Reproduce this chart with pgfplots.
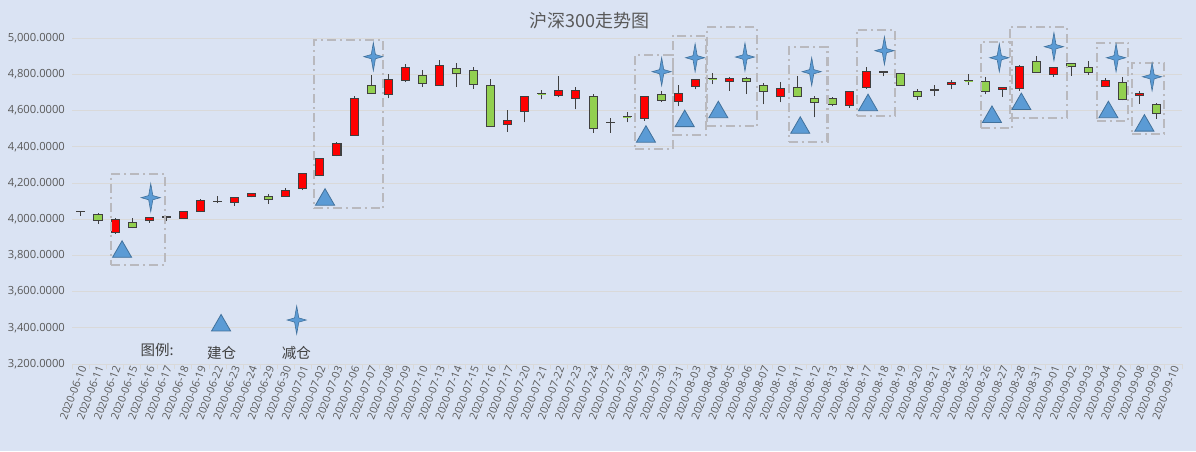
\documentclass[border=0pt]{standalone}
\usepackage{pgfplots}
\pgfplotsset{compat=1.18}
\usepackage{fontspec}
\setmainfont{Open Sans}
\newfontfamily\cjk{Noto Sans CJK SC}
\definecolor{bgc}{RGB}{218,227,243}
\definecolor{gridc}{RGB}{217,217,217}
\definecolor{tickc}{RGB}{89,89,89}
\definecolor{upred}{RGB}{255,0,0}
\definecolor{dngreen}{RGB}{146,208,80}
\definecolor{cdark}{RGB}{64,64,64}
\definecolor{mblue}{RGB}{91,155,213}
\definecolor{mdark}{RGB}{65,113,156}
\definecolor{rectc}{RGB}{185,185,190}
\pgfdeclareplotmark{star4}{%
 \pgfpathmoveto{\pgfqpoint{0pt}{14pt}}%
 \pgfpathlineto{\pgfqpoint{2.1pt}{2.1pt}}%
 \pgfpathlineto{\pgfqpoint{9.5pt}{0pt}}%
 \pgfpathlineto{\pgfqpoint{2.1pt}{-2.1pt}}%
 \pgfpathlineto{\pgfqpoint{0pt}{-14pt}}%
 \pgfpathlineto{\pgfqpoint{-2.1pt}{-2.1pt}}%
 \pgfpathlineto{\pgfqpoint{-9.5pt}{0pt}}%
 \pgfpathlineto{\pgfqpoint{-2.1pt}{2.1pt}}%
 \pgfpathclose
 \pgfusepathqfillstroke}
\newcommand\candle[5]{% index, open, high, low, close
  \pgfmathsetmacro\cdl{#1-0.235}%
  \pgfmathsetmacro\cdr{#1+0.235}%
  \pgfmathparse{(#5>=#2)?1:0}%
  \ifdim\pgfmathresult pt>0.5pt \def\cdfill{upred}\else\def\cdfill{dngreen}\fi
  \edef\cdcmd{%
    \noexpand\addplot[draw=cdark, line width=1pt, mark=none] coordinates {(#1,#4) (#1,#3)};%
    \noexpand\addplot[draw=cdark, line width=1pt, fill=\cdfill, mark=none] coordinates {(\cdl,#2) (\cdr,#2) (\cdr,#5) (\cdl,#5)} --cycle;}%
  \cdcmd
}
\begin{document}
\begin{tikzpicture}
\path[fill=bgc, use as bounding box] (-72.4pt,-87pt) rectangle (1123.6pt,364pt);
\begin{axis}[
  at={(0pt,0pt)}, anchor=south west, scale only axis,
  width=1109.6pt, height=325.8pt,
  xmin=-0.5, xmax=64.5, ymin=3200, ymax=5000,
  clip=false,
  axis lines*=left,
  y axis line style={draw=none},
  x axis line style={draw=gridc, line width=0.8pt},
  ytick={3200,3400,...,5000},
  ymajorgrids, grid style={gridc, line width=0.8pt},
  scaled y ticks=false,
  /pgf/number format/assume math mode=true,
  yticklabel style={/pgf/number format/fixed, /pgf/number format/fixed zerofill,
    /pgf/number format/precision=4, /pgf/number format/1000 sep={,},
    font=\fontsize{11.2}{12}\selectfont, xshift=-4pt},
  ticklabel style={text=tickc},
  xtick={0,...,64},
  xticklabels={2020-06-10,2020-06-11,2020-06-12,2020-06-15,2020-06-16,2020-06-17,2020-06-18,2020-06-19,2020-06-22,2020-06-23,2020-06-24,2020-06-29,2020-06-30,2020-07-01,2020-07-02,2020-07-03,2020-07-06,2020-07-07,2020-07-08,2020-07-09,2020-07-10,2020-07-13,2020-07-14,2020-07-15,2020-07-16,2020-07-17,2020-07-20,2020-07-21,2020-07-22,2020-07-23,2020-07-24,2020-07-27,2020-07-28,2020-07-29,2020-07-30,2020-07-31,2020-08-03,2020-08-04,2020-08-05,2020-08-06,2020-08-07,2020-08-10,2020-08-11,2020-08-12,2020-08-13,2020-08-14,2020-08-17,2020-08-18,2020-08-19,2020-08-20,2020-08-21,2020-08-24,2020-08-25,2020-08-26,2020-08-27,2020-08-28,2020-08-31,2020-09-01,2020-09-02,2020-09-03,2020-09-04,2020-09-07,2020-09-08,2020-09-09,2020-09-10},
  xticklabel style={rotate=69, anchor=east, font=\fontsize{10.8}{11}\selectfont, inner sep=1.5pt, yshift=-3pt},
  minor xtick={-0.5,0.5,...,64.5},
  major tick length=0pt, minor tick length=5pt, tick align=outside,
  minor tick style={draw=gridc, line width=0.8pt},
]
% candles: index, open, high, low, close
\candle{0}{4043}{4045}{4020}{4041}
\candle{1}{4026}{4037}{3976}{3993}
\candle{2}{3925}{4009}{3920}{4000}
\candle{3}{3981}{4004}{3951}{3953}
\candle{4}{3993}{4011}{3980}{4009}
\candle{5}{4012}{4014}{3989}{4013}
\candle{6}{4002}{4044}{4000}{4043}
\candle{7}{4041}{4110}{4039}{4101}
\candle{8}{4098}{4127}{4088}{4097}
\candle{9}{4092}{4123}{4075}{4121}
\candle{10}{4127}{4144}{4120}{4140}
\candle{11}{4127}{4142}{4086}{4108}
\candle{12}{4127}{4172}{4125}{4161}
\candle{13}{4170}{4252}{4160}{4250}
\candle{14}{4240}{4340}{4238}{4338}
\candle{15}{4353}{4424}{4347}{4421}
\candle{16}{4465}{4680}{4464}{4669}
\candle{17}{4741}{4798}{4691}{4697}
\candle{18}{4691}{4803}{4667}{4774}
\candle{19}{4768}{4858}{4757}{4840}
\candle{20}{4796}{4824}{4733}{4752}
\candle{21}{4741}{4879}{4739}{4851}
\candle{22}{4835}{4862}{4730}{4807}
\candle{23}{4824}{4840}{4721}{4745}
\candle{24}{4741}{4772}{4512}{4513}
\candle{25}{4524}{4601}{4483}{4546}
\candle{26}{4594}{4680}{4535}{4678}
\candle{27}{4694}{4713}{4662}{4692}
\candle{28}{4682}{4789}{4673}{4712}
\candle{29}{4666}{4728}{4607}{4712}
\candle{30}{4678}{4689}{4479}{4501}
\candle{31}{4535}{4557}{4479}{4533}
\candle{32}{4567}{4590}{4535}{4565}
\candle{33}{4556}{4679}{4544}{4678}
\candle{34}{4689}{4706}{4647}{4654}
\candle{35}{4649}{4739}{4623}{4695}
\candle{36}{4734}{4773}{4717}{4772}
\candle{37}{4777}{4806}{4745}{4775}
\candle{38}{4761}{4783}{4710}{4778}
\candle{39}{4778}{4787}{4691}{4761}
\candle{40}{4739}{4750}{4634}{4706}
\candle{41}{4678}{4756}{4645}{4721}
\candle{42}{4728}{4789}{4673}{4678}
\candle{43}{4666}{4679}{4562}{4645}
\candle{44}{4667}{4676}{4624}{4632}
\candle{45}{4626}{4706}{4617}{4705}
\candle{46}{4728}{4839}{4722}{4817}
\candle{47}{4815}{4820}{4789}{4813}
\candle{48}{4806}{4806}{4737}{4737}
\candle{49}{4707}{4722}{4661}{4678}
\candle{50}{4714}{4739}{4682}{4712}
\candle{51}{4744}{4767}{4717}{4757}
\candle{52}{4766}{4800}{4744}{4764}
\candle{53}{4761}{4783}{4689}{4703}
\candle{54}{4715}{4727}{4676}{4726}
\candle{55}{4724}{4852}{4711}{4843}
\candle{56}{4870}{4900}{4813}{4813}
\candle{57}{4798}{4838}{4785}{4837}
\candle{58}{4859}{4860}{4793}{4843}
\candle{59}{4837}{4876}{4798}{4813}
\candle{60}{4732}{4778}{4731}{4765}
\candle{61}{4754}{4787}{4656}{4663}
\candle{62}{4682}{4706}{4637}{4693}
\candle{63}{4632}{4644}{4554}{4582}
% dash-dot boxes
\addplot[rectc, line width=2.2pt, dash pattern=on 9pt off 4pt on 2pt off 4pt, mark=none] coordinates {(1.76,3747) (4.93,3747) (4.93,4250) (1.76,4250) (1.76,3747)};
\addplot[rectc, line width=2.2pt, dash pattern=on 9pt off 4pt on 2pt off 4pt, mark=none] coordinates {(13.65,4060) (17.71,4060) (17.71,4990) (13.65,4990) (13.65,4060)};
\addplot[rectc, line width=2.2pt, dash pattern=on 9pt off 4pt on 2pt off 4pt, mark=none] coordinates {(32.46,4386) (34.67,4386) (34.67,4907) (32.46,4907) (32.46,4386)};
\addplot[rectc, line width=2.2pt, dash pattern=on 9pt off 4pt on 2pt off 4pt, mark=none] coordinates {(34.67,4465) (36.62,4465) (36.62,5012) (34.67,5012) (34.67,4465)};
\addplot[rectc, line width=2.2pt, dash pattern=on 9pt off 4pt on 2pt off 4pt, mark=none] coordinates {(36.66,4515) (39.62,4515) (39.62,5060) (36.66,5060) (36.66,4515)};
\addplot[rectc, line width=2.2pt, dash pattern=on 9pt off 4pt on 2pt off 4pt, mark=none] coordinates {(41.46,4428) (43.73,4428) (43.73,4950) (41.46,4950) (41.46,4428)};
\addplot[rectc, line width=2.2pt, dash pattern=on 9pt off 4pt on 2pt off 4pt, mark=none] coordinates {(45.45,4572) (47.69,4572) (47.69,5047) (45.45,5047) (45.45,4572)};
\addplot[rectc, line width=2.2pt, dash pattern=on 9pt off 4pt on 2pt off 4pt, mark=none] coordinates {(52.71,4502) (54.56,4502) (54.56,4981) (52.71,4981) (52.71,4502)};
\addplot[rectc, line width=2.2pt, dash pattern=on 9pt off 4pt on 2pt off 4pt, mark=none] coordinates {(54.41,4557) (57.77,4557) (57.77,5064) (54.41,5064) (54.41,4557)};
\addplot[rectc, line width=2.2pt, dash pattern=on 9pt off 4pt on 2pt off 4pt, mark=none] coordinates {(59.51,4543) (61.36,4543) (61.36,4975) (59.51,4975) (59.51,4543)};
\addplot[rectc, line width=2.2pt, dash pattern=on 9pt off 4pt on 2pt off 4pt, mark=none] coordinates {(61.59,4471) (63.47,4471) (63.47,4865) (61.59,4865) (61.59,4471)};
% buy markers (triangles)
\addplot[only marks, mark=triangle*, mark size=11pt, mark options={fill=mblue, draw=mdark, line width=0.8pt, solid}] coordinates {
(2.41,3820) (14.30,4108) (33.10,4456) (35.37,4542) (37.34,4591) (42.14,4505)
(46.11,4630) (53.37,4565) (55.09,4636) (60.19,4591) (62.30,4517) (8.21,3413)};
% sell markers (stars)
\addplot[only marks, mark=star4, mark options={fill=mblue, draw=mdark, line width=0.6pt, solid}] coordinates {
(4.09,4119) (17.13,4898) (34.02,4815) (35.98,4892) (38.90,4896) (42.81,4815)
(47.07,4931) (53.80,4892) (57.00,4953) (60.64,4892) (62.75,4787) (12.64,3443)};
% texts
\node[text=cdark, font=\cjk\fontsize{14.5}{16}\selectfont] at (axis cs:4.46,3277) {图例:};
\node[text=cdark, font=\cjk\fontsize{14.5}{16}\selectfont] at (axis cs:8.24,3263) {建仓};
\node[text=cdark, font=\cjk\fontsize{14.5}{16}\selectfont] at (axis cs:12.62,3263) {减仓};
\node[text=tickc, font=\cjk\fontsize{18}{20}\selectfont] at (axis cs:29.77,5095) {沪深300走势图};
\end{axis}
\end{tikzpicture}
\end{document}
